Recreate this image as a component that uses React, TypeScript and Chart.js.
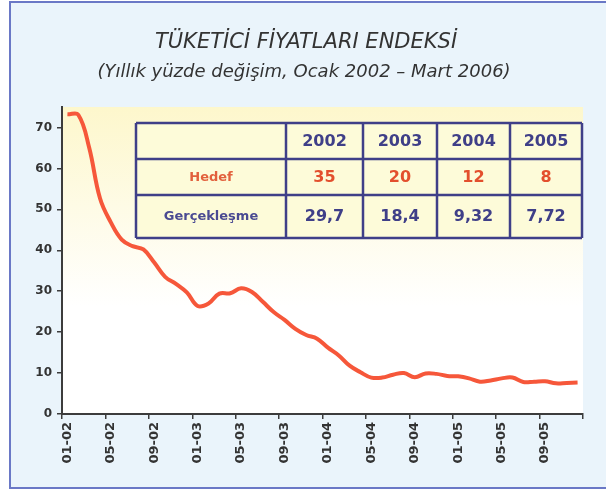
import React, { useEffect, useRef } from "react";
import { Chart, registerables } from "chart.js";

Chart.register(...registerables);

// ---- Data ----
const titleText = "TÜKETİCİ FİYATLARI ENDEKSİ";
const subtitleText = "(Yıllık yüzde değişim, Ocak 2002 – Mart 2006)";

const months = [
  "01-02", "02-02", "03-02", "04-02", "05-02", "06-02", "07-02", "08-02", "09-02", "10-02", "11-02", "12-02",
  "01-03", "02-03", "03-03", "04-03", "05-03", "06-03", "07-03", "08-03", "09-03", "10-03", "11-03", "12-03",
  "01-04", "02-04", "03-04", "04-04", "05-04", "06-04", "07-04", "08-04", "09-04", "10-04", "11-04", "12-04",
  "01-05", "02-05", "03-05", "04-05", "05-05", "06-05", "07-05", "08-05", "09-05", "10-05", "11-05", "12-05",
];

const cpiAnnualChange = [
  73.2, 73.1, 65.1, 52.7, 46.8, 42.6, 41.0, 40.2, 37.0, 33.5, 31.8, 29.7,
  26.4, 27.0, 29.4, 29.5, 30.7, 29.8, 27.4, 24.9, 23.0, 20.8, 19.3, 18.4,
  16.2, 14.3, 11.8, 10.2, 8.9, 8.9, 9.6, 10.0, 9.0, 9.9, 9.8, 9.3,
  9.2, 8.7, 7.9, 8.2, 8.7, 8.9, 7.8, 7.9, 8.0, 7.5, 7.6, 7.7,
];

const xTickLabels = ["01-02", "05-02", "09-02", "01-03", "05-03", "09-03", "01-04", "05-04", "09-04", "01-05", "05-05", "09-05"];
const yTickValues = [0, 10, 20, 30, 40, 50, 60, 70];

const tableYears = ["2002", "2003", "2004", "2005"];
const rowLabels = ["Hedef", "Gerçekleşme"];
const targetValues = ["35", "20", "12", "8"];
const actualValues = ["29,7", "18,4", "9,32", "7,72"];

// ---- Styling constants ----
const FONT = "'DejaVu Sans', Verdana, sans-serif";
const AXIS_COLOR = "#3c3c3c";
const LINE_COLOR = "#f6573a";
const NAVY = "#3f3f88";
const ORANGE = "#e2603c";

const decorPlugin = {
  id: "decor",
  beforeDraw(chart: any) {
    const { ctx, chartArea: a, width, height } = chart;
    ctx.save();
    ctx.fillStyle = "#ffffff";
    ctx.fillRect(0, 0, width, height);
    // frame
    ctx.fillStyle = "#eaf4fb";
    ctx.fillRect(10, 2, width, 486);
    ctx.strokeStyle = "#6a78c6";
    ctx.lineWidth = 2;
    ctx.strokeRect(10, 2, width + 10, 486);
    // plot area gradient
    const g = ctx.createLinearGradient(0, a.top, 0, a.bottom);
    g.addColorStop(0, "#fdf7cc");
    g.addColorStop(0.65, "#ffffff");
    g.addColorStop(1, "#ffffff");
    ctx.fillStyle = g;
    ctx.fillRect(a.left, a.top, a.right - a.left, a.bottom - a.top);
    // titles
    ctx.fillStyle = "#333333";
    ctx.textAlign = "center";
    ctx.textBaseline = "middle";
    ctx.font = `italic 21px ${FONT}`;
    ctx.fillText(titleText, 306, 43);
    ctx.font = `italic 18px ${FONT}`;
    ctx.fillText(subtitleText, 304, 72);
    ctx.restore();
  },
  afterDatasetsDraw(chart: any) {
    const { ctx, chartArea: a } = chart;
    const colX = [136, 286, 363, 437, 510, a.right - 1];
    const rowY = [123, 159, 195, 238];
    ctx.save();
    ctx.fillStyle = "#fdfbd9";
    ctx.fillRect(colX[0], rowY[0], colX[5] - colX[0], rowY[3] - rowY[0]);
    ctx.strokeStyle = NAVY;
    ctx.lineWidth = 2.5;
    for (const x of colX) {
      ctx.beginPath();
      ctx.moveTo(x, rowY[0]);
      ctx.lineTo(x, rowY[3]);
      ctx.stroke();
    }
    for (const y of rowY) {
      ctx.beginPath();
      ctx.moveTo(colX[0], y);
      ctx.lineTo(colX[5], y);
      ctx.stroke();
    }
    ctx.textAlign = "center";
    ctx.textBaseline = "middle";
    const cx = (i: number) => (colX[i] + colX[i + 1]) / 2;
    const cy = (j: number) => (rowY[j] + rowY[j + 1]) / 2 + 1;
    ctx.font = `bold 16px ${FONT}`;
    ctx.fillStyle = NAVY;
    tableYears.forEach((y, i) => ctx.fillText(y, cx(i + 1), cy(0)));
    ctx.font = `bold 13px ${FONT}`;
    ctx.fillStyle = ORANGE;
    ctx.fillText(rowLabels[0], cx(0), cy(1));
    ctx.fillStyle = "#4a4a92";
    ctx.fillText(rowLabels[1], cx(0), cy(2) - 1);
    ctx.font = `bold 16px ${FONT}`;
    ctx.fillStyle = "#e34f2d";
    targetValues.forEach((v, i) => ctx.fillText(v, cx(i + 1), cy(1)));
    ctx.fillStyle = NAVY;
    actualValues.forEach((v, i) => ctx.fillText(v, cx(i + 1), cy(2) - 1));
    ctx.restore();
  },
};

export default function App() {
  const canvasRef = useRef<HTMLCanvasElement | null>(null);

  useEffect(() => {
    document.body.style.margin = "0";
    const canvas = canvasRef.current;
    if (!canvas) return;
    Chart.defaults.font.family = FONT;
    const chart = new Chart(canvas, {
      type: "line",
      data: {
        labels: months,
        datasets: [
          {
            data: cpiAnnualChange,
            borderColor: LINE_COLOR,
            borderWidth: 4,
            pointRadius: 0,
            tension: 0.4,
            fill: false,
          },
        ],
      },
      options: {
        responsive: false,
        animation: false,
        events: [],
        layout: { padding: { left: 10, right: 23, top: 107, bottom: 27 } },
        plugins: {
          legend: { display: false },
          tooltip: { enabled: false },
          title: { display: false },
        },
        scales: {
          x: {
            type: "category",
            offset: true,
            grid: {
              offset: true,
              drawOnChartArea: false,
              drawTicks: true,
              tickLength: 5,
              lineWidth: 1.5,
              tickColor: (c: any) => (c.type !== "tick" || c.index % 4 === 0 ? AXIS_COLOR : "rgba(0,0,0,0)"),
            },
            border: { display: true, color: AXIS_COLOR, width: 2 },
            ticks: {
              autoSkip: false,
              maxRotation: 90,
              minRotation: 90,
              padding: 3,
              color: "#333333",
              font: { family: FONT, weight: "bold", size: 13 },
              callback: (_v: any, i: number) => (xTickLabels.includes(months[i]) ? months[i] : ""),
            },
            afterFit: (s: any) => {
              s.height = 50;
            },
          },
          y: {
            min: 0,
            max: 75,
            afterBuildTicks: (s: any) => {
              s.ticks = yTickValues.map((v) => ({ value: v }));
            },
            grid: {
              drawOnChartArea: false,
              drawTicks: true,
              tickLength: 5,
              lineWidth: 1.5,
              color: AXIS_COLOR,
            },
            border: { display: true, color: AXIS_COLOR, width: 2 },
            ticks: {
              padding: 5,
              color: "#333333",
              font: { family: FONT, weight: "bold", size: 12 },
            },
            afterFit: (s: any) => {
              s.width = 52;
            },
          },
        },
      },
      plugins: [decorPlugin],
    } as any);
    return () => chart.destroy();
  }, []);

  return (
    <div style={{ width: 606, height: 491 }}>
      <canvas ref={canvasRef} width={606} height={491} style={{ display: "block" }} />
    </div>
  );
}
